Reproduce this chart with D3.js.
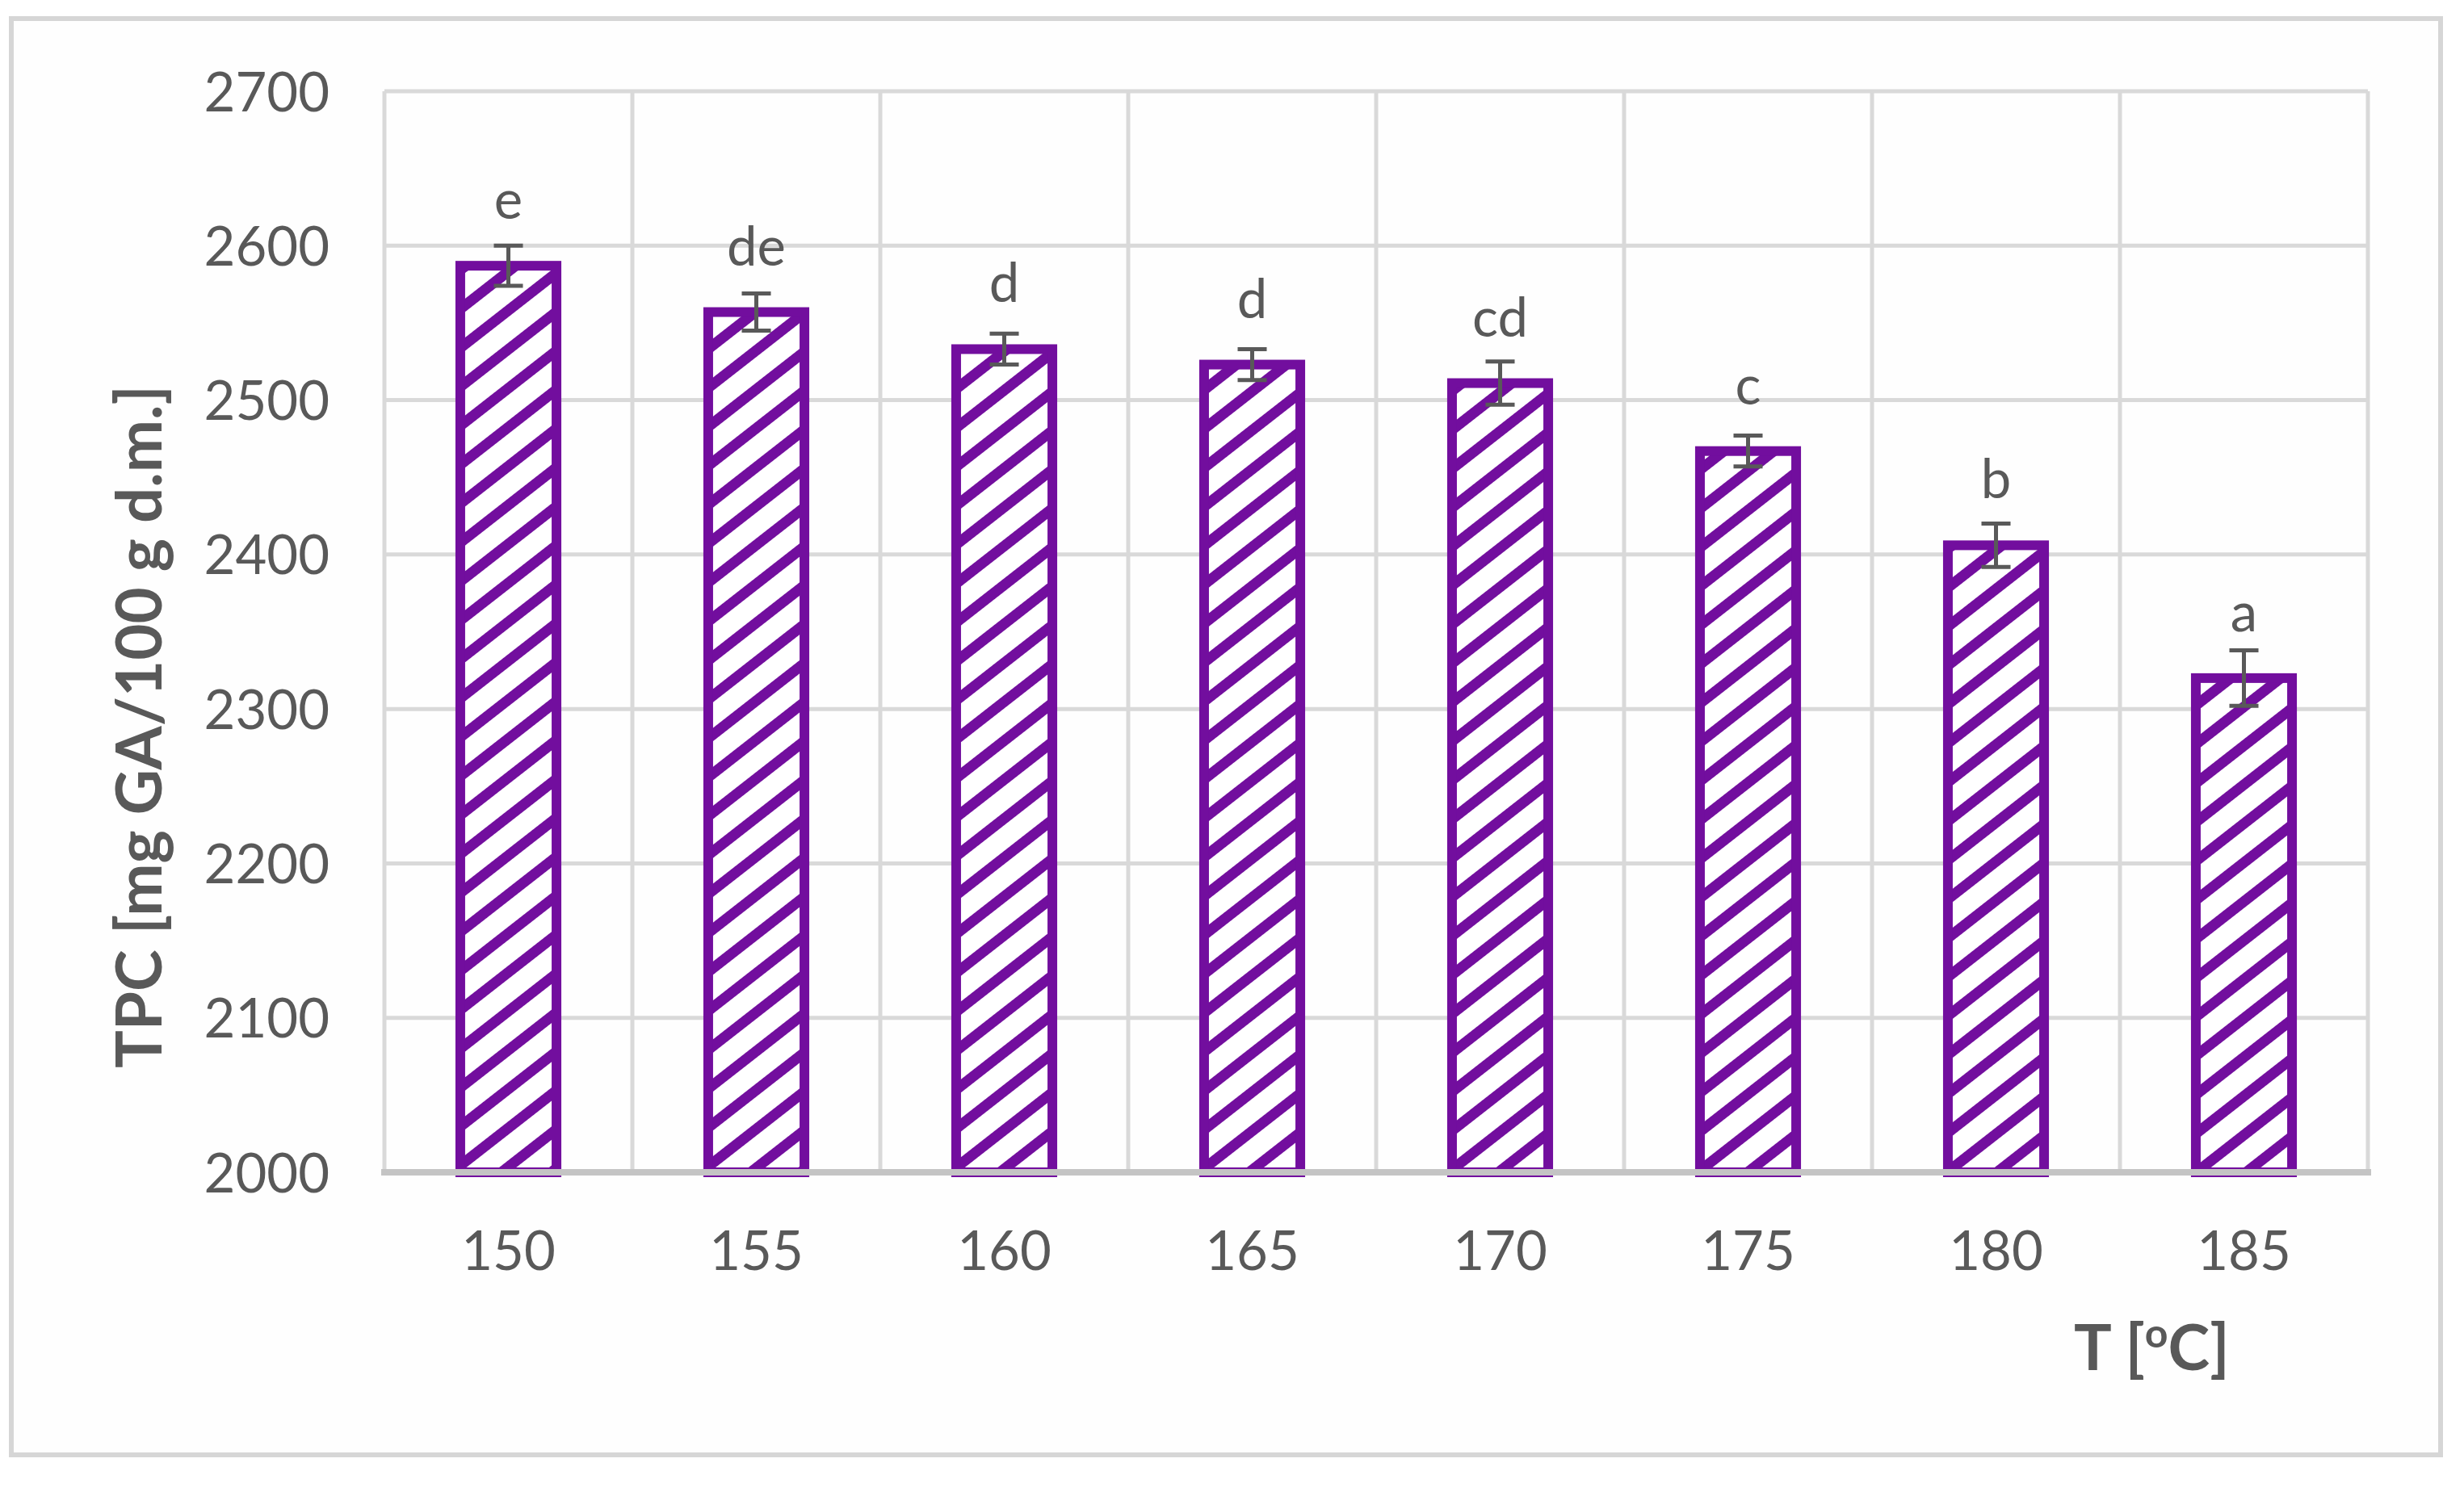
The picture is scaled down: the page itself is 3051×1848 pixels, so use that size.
<!DOCTYPE html>
<html>
<head>
<meta charset="utf-8">
<script src="https://cdn.jsdelivr.net/npm/d3@7"></script>
<style>
  html, body { margin: 0; padding: 0; background: #ffffff; }
  svg { display: block; }
</style>
</head>
<body>
<script>
// ---- data ----
const categories = ["150", "155", "160", "165", "170", "175", "180", "185"];
const values = [2587, 2557, 2533, 2523, 2511, 2467, 2406, 2320];
const errors = [13, 12, 10, 10, 14, 10, 14, 18];
const letters = ["e", "de", "d", "d", "cd", "c", "b", "a"];
const yTicks = [2000, 2100, 2200, 2300, 2400, 2500, 2600, 2700];
const yTitle = "TPC [mg GA/100 g d.m.]";

// ---- layout ----
const W = 3051, H = 1848;
const plotL = 476, plotR = 2932, plotT = 113, plotB = 1452;
const purple = "#720e9e";
const textGrey = "#595959";
const gridGrey = "#d9d9d9";

const svg = d3.select("body").append("svg")
  .attr("width", W).attr("height", H)
  .attr("viewBox", `0 0 ${W} ${H}`);

svg.append("rect").attr("x", 0).attr("y", 0).attr("width", W).attr("height", H).attr("fill", "#ffffff");
svg.append("rect").attr("x", 14).attr("y", 23).attr("width", 3008).attr("height", 1779)
  .attr("fill", "#fefefe").attr("stroke", "#d6d6d6").attr("stroke-width", 6);

const y = d3.scaleLinear().domain([2000, 2700]).range([plotB, plotT]);
const x = d3.scaleBand().domain(categories).range([plotL, plotR])
  .paddingInner(0.612).paddingOuter(0.306);

// pattern
const defs = svg.append("defs");
const pat = defs.append("pattern").attr("id", "hatch")
  .attr("patternUnits", "userSpaceOnUse")
  .attr("width", 38).attr("height", 38)
  .attr("patternTransform", "rotate(-38)");
pat.append("rect").attr("width", 38).attr("height", 38).attr("fill", "#ffffff");
pat.append("rect").attr("x", 0).attr("y", 0).attr("width", 38).attr("height", 13).attr("fill", purple);

// horizontal gridlines
svg.append("g").selectAll("line").data(yTicks.filter(t => t !== 2000)).join("line")
  .attr("x1", plotL).attr("x2", plotR)
  .attr("y1", d => y(d)).attr("y2", d => y(d))
  .attr("stroke", gridGrey).attr("stroke-width", 5);

// vertical gridlines at category boundaries
const bounds = d3.range(categories.length + 1).map(i => plotL + i * x.step());
svg.append("g").selectAll("line").data(bounds).join("line")
  .attr("x1", d => d).attr("x2", d => d)
  .attr("y1", y(2700)).attr("y2", y(2000))
  .attr("stroke", gridGrey).attr("stroke-width", 5);

// bars
const data = categories.map((c, i) => ({ c, v: values[i], e: errors[i], l: letters[i] }));
svg.append("g").selectAll("rect").data(data).join("rect")
  .attr("x", d => x(d.c)).attr("y", d => y(d.v))
  .attr("width", x.bandwidth()).attr("height", d => y(2000) - y(d.v))
  .attr("fill", "url(#hatch)")
  .attr("stroke", purple).attr("stroke-width", 12);

// x axis line
svg.append("line").attr("x1", plotL - 4).attr("x2", plotR + 4)
  .attr("y1", y(2000)).attr("y2", y(2000))
  .attr("stroke", "#c4c4c4").attr("stroke-width", 8);

// error bars
const eg = svg.append("g").attr("stroke", textGrey).attr("stroke-width", 5);
data.forEach(d => {
  const cx = x(d.c) + x.bandwidth() / 2;
  eg.append("line").attr("x1", cx).attr("x2", cx).attr("y1", y(d.v - d.e)).attr("y2", y(d.v + d.e));
  eg.append("line").attr("x1", cx - 18).attr("x2", cx + 18).attr("y1", y(d.v - d.e)).attr("y2", y(d.v - d.e));
  eg.append("line").attr("x1", cx - 18).attr("x2", cx + 18).attr("y1", y(d.v + d.e)).attr("y2", y(d.v + d.e));
});

// significance letters
svg.append("g").selectAll("text").data(data).join("text")
  .attr("x", d => x(d.c) + x.bandwidth() / 2)
  .attr("y", d => y(d.v) - 58)
  .attr("text-anchor", "middle")
  .attr("font-family", "Lato, 'Open Sans', sans-serif")
  .attr("font-size", 67)
  .attr("fill", textGrey)
  .text(d => d.l);

// y axis labels
const yAxis = svg.append("g").attr("transform", `translate(408,0)`)
  .call(d3.axisLeft(y).tickValues(yTicks).tickSize(0).tickPadding(0).tickFormat(d3.format("d")));
yAxis.select(".domain").remove();
yAxis.selectAll("text")
  .attr("font-family", "Lato, 'Open Sans', sans-serif")
  .attr("font-size", 67)
  .attr("fill", textGrey)
  .attr("dy", "0.36em");

// x axis labels
const xAxis = svg.append("g").attr("transform", `translate(0,1573)`)
  .call(d3.axisBottom(x).tickSize(0).tickPadding(0));
xAxis.select(".domain").remove();
xAxis.selectAll("text")
  .attr("font-family", "Lato, 'Open Sans', sans-serif")
  .attr("font-size", 67)
  .attr("fill", textGrey)
  .attr("dy", 0)
  .attr("y", 0);

// y title
const yt = svg.append("text")
  .attr("transform", "translate(200,900) rotate(-90)")
  .attr("text-anchor", "middle")
  .attr("font-family", "Lato, 'Open Sans', sans-serif")
  .attr("font-weight", "bold")
  .attr("font-size", 78)
  .attr("fill", textGrey)
  .text(yTitle);

// x title
const xt = svg.append("text")
  .attr("x", 2568).attr("y", 1697)
  .attr("font-family", "Lato, 'Open Sans', sans-serif")
  .attr("font-weight", "bold")
  .attr("font-size", 78)
  .attr("fill", textGrey);
xt.append("tspan").text("T [");
xt.append("tspan").attr("font-size", 50).attr("dy", -28).text("o");
xt.append("tspan").attr("dy", 28).text("C]");
</script>
</body>
</html>
